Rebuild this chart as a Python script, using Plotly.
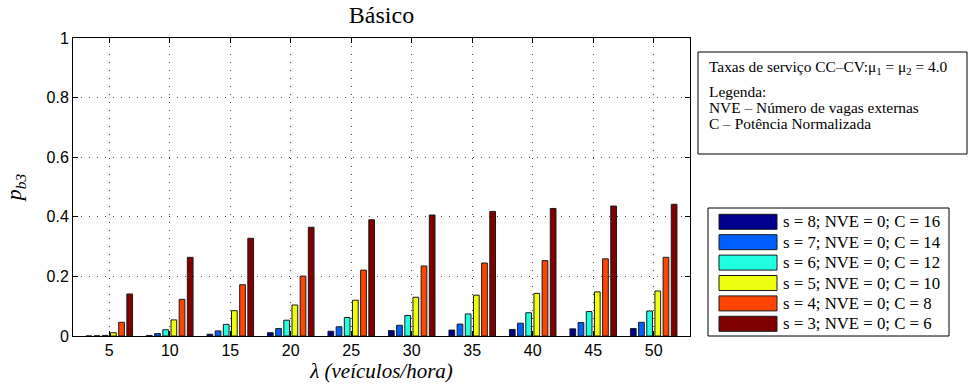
import plotly.graph_objects as go

# Arrival rate (vehicles/hour)
lam = [5, 10, 15, 20, 25, 30, 35, 40, 45, 50]

# Blocking probability p_b3 per configuration
pb_s8 = [0.0001, 0.002, 0.006, 0.011, 0.016, 0.018, 0.020, 0.022, 0.024, 0.025]
pb_s7 = [0.0005, 0.008, 0.017, 0.025, 0.031, 0.036, 0.040, 0.043, 0.045, 0.046]
pb_s6 = [0.002, 0.021, 0.039, 0.053, 0.062, 0.069, 0.074, 0.078, 0.082, 0.084]
pb_s5 = [0.011, 0.054, 0.085, 0.104, 0.120, 0.130, 0.137, 0.143, 0.148, 0.151]
pb_s4 = [0.046, 0.123, 0.172, 0.201, 0.221, 0.235, 0.245, 0.253, 0.259, 0.264]
pb_s3 = [0.141, 0.264, 0.328, 0.365, 0.390, 0.406, 0.418, 0.428, 0.436, 0.442]

series_names = [
    "s = 8; NVE = 0; C = 16",
    "s = 7; NVE = 0; C = 14",
    "s = 6; NVE = 0; C = 12",
    "s = 5; NVE = 0; C = 10",
    "s = 4; NVE = 0; C = 8",
    "s = 3; NVE = 0; C = 6",
]
series_values = [pb_s8, pb_s7, pb_s6, pb_s5, pb_s4, pb_s3]
series_colors = ["#00008F", "#0060FF", "#20FFE0", "#EEFF10", "#FF4500", "#800000"]

yticks = [0, 0.2, 0.4, 0.6, 0.8, 1]
ytick_text = ["0", "0.2", "0.4", "0.6", "0.8", "1"]

W, H = 972, 392
ML, MR, MT, MB = 73, 282, 38, 56
PW, PH = W - ML - MR, H - MT - MB

SERIF = "Liberation Serif"
SANS = "Liberation Sans"


def px_x(px):
    return (px - ML) / PW


def px_y(py):
    return (H - MB - py) / PH


fig = go.Figure()
for name, vals, col in zip(series_names, series_values, series_colors):
    fig.add_trace(go.Bar(
        x=lam, y=vals, name=name,
        marker=dict(color=col, line=dict(color="#1a1a1a", width=1)),
        showlegend=False,
    ))

shapes = []
annotations = []

# Information box (service rates and abbreviations)
shapes.append(dict(type="rect", xref="paper", yref="paper",
                   x0=px_x(698), x1=px_x(967), y0=px_y(154), y1=px_y(52),
                   line=dict(color="black", width=1), fillcolor="white"))
annotations.append(dict(
    xref="paper", yref="paper", x=px_x(707), y=px_y(68), xanchor="left", yanchor="middle",
    text="Taxas de serviço CC–CV:μ<sub>1</sub> = μ<sub>2</sub> = 4.0",
    showarrow=False, font=dict(family=SERIF, size=15.4, color="black"), align="left"))
info_lines = ["Legenda:", "NVE – Número de vagas externas", "C – Potência Normalizada"]
for i, line in enumerate(info_lines):
    annotations.append(dict(
        xref="paper", yref="paper", x=px_x(707), y=px_y(91 + 16 * i),
        xanchor="left", yanchor="middle", text=line, showarrow=False,
        font=dict(family=SERIF, size=15.4, color="black"), align="left"))

# Series key
shapes.append(dict(type="rect", xref="paper", yref="paper",
                   x0=px_x(708), x1=px_x(949), y0=px_y(336), y1=px_y(208),
                   line=dict(color="black", width=1), fillcolor="white"))
for i, (name, col) in enumerate(zip(series_names, series_colors)):
    cy = 221.8 + 20.4 * i
    shapes.append(dict(type="rect", xref="paper", yref="paper",
                       x0=px_x(719), x1=px_x(777), y0=px_y(cy + 7.5), y1=px_y(cy - 7.5),
                       line=dict(color="#1a1a1a", width=1), fillcolor=col))
    annotations.append(dict(
        xref="paper", yref="paper", x=px_x(781), y=px_y(cy), xanchor="left",
        yanchor="middle", text=name, showarrow=False,
        font=dict(family=SERIF, size=16.8, color="black")))

fig.update_layout(
    width=W, height=H,
    margin=dict(l=ML, r=MR, t=MT, b=MB),
    paper_bgcolor="white", plot_bgcolor="white",
    barmode="group", bargap=0.19, bargroupgap=0.3,
    title=dict(text="Básico", x=(ML + PW / 2) / W, xanchor="center",
               y=1 - 15 / H, yanchor="middle", yref="container",
               font=dict(family=SERIF, size=24, color="black")),
    xaxis=dict(
        range=[2, 53], tickvals=lam, ticktext=[str(v) for v in lam],
        ticks="inside", ticklen=5, tickcolor="black",
        showline=True, linecolor="black", linewidth=1, mirror="ticks",
        showgrid=True, gridcolor="#444", gridwidth=1, griddash="1px,7px",
        tickfont=dict(family=SANS, size=16, color="black"),
        title=dict(text="<i>λ (veículos/hora)</i>", standoff=3,
                   font=dict(family=SERIF, size=21, color="black")),
        zeroline=False,
    ),
    yaxis=dict(
        range=[0, 1], tickvals=yticks, ticktext=ytick_text,
        ticks="inside", ticklen=5, tickcolor="black",
        showline=True, linecolor="black", linewidth=1, mirror="ticks",
        showgrid=True, gridcolor="#444", gridwidth=1, griddash="1px,7px",
        tickfont=dict(family=SANS, size=16, color="black"),
        title=dict(text="<i>p</i><sub><i>b3</i></sub>", standoff=18,
                   font=dict(family=SERIF, size=22, color="black")),
        zeroline=False,
    ),
    shapes=shapes,
    annotations=annotations,
)

fig.write_html("out.html")
